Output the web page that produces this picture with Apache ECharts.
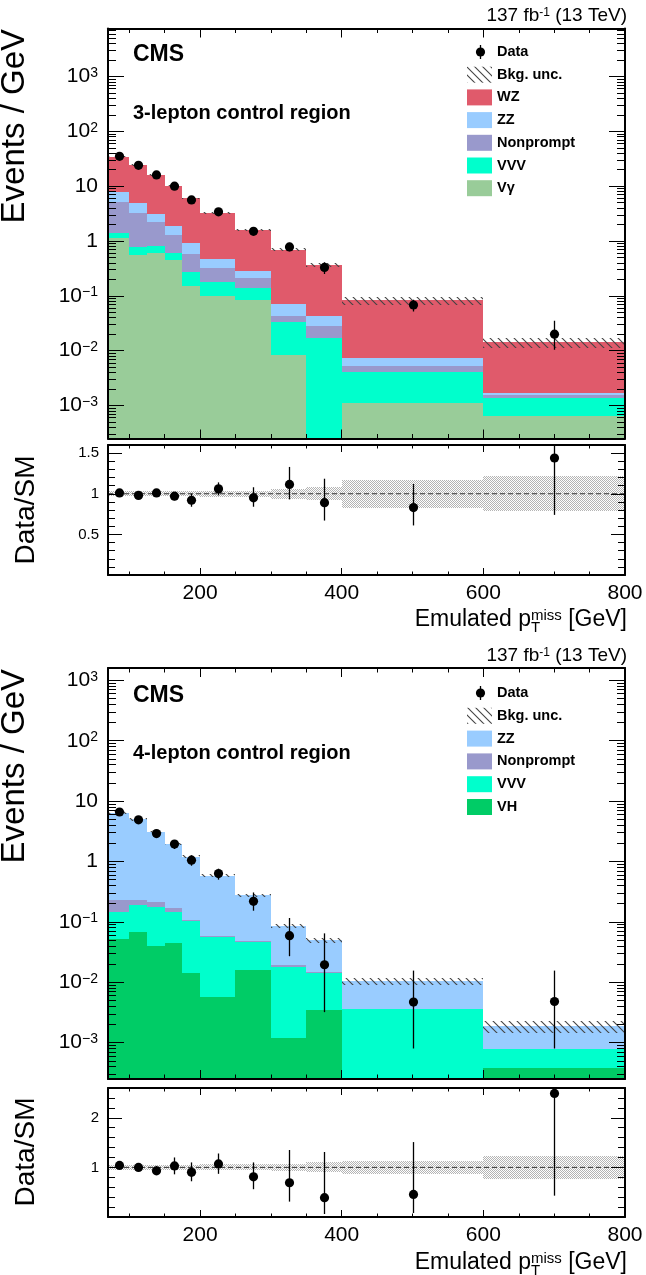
<!DOCTYPE html>
<html>
<head>
<meta charset="utf-8">
<script src="https://cdn.jsdelivr.net/npm/echarts@6.0.0/dist/echarts.min.js"></script>
<style>
html,body{margin:0;padding:0;background:#ffffff;}
#chart{width:646px;height:1275px;}
</style>
</head>
<body>
<div id="chart"></div>
<script>
// ================= DATA =================
const binLow    = [70, 100, 125, 150, 175, 200, 250, 300, 350, 400, 600];
const binHigh   = [100, 125, 150, 175, 200, 250, 300, 350, 400, 600, 800];
const binCenter = [85, 112.5, 137.5, 162.5, 187.5, 225, 275, 325, 375, 500, 700];

// 3-lepton control region, Events / GeV (stack order bottom -> top)
const lep3Vgamma    = [1.15, 0.55, 0.60, 0.455, 0.154, 0.101, 0.0855, 0.0084, 0, 0.0011, 0.00065];
const lep3VVV       = [0.25, 0.23, 0.21, 0.145, 0.113, 0.074, 0.0525, 0.0255, 0.0168, 0.0030, 0.0007];
const lep3Nonprompt = [3.8, 2.48, 1.42, 0.67, 0.32, 0.145, 0.072, 0.0097, 0.0118, 0.0012, 0.00021];
const lep3ZZ        = [2.5, 1.58, 0.94, 0.59, 0.347, 0.156, 0.069, 0.0277, 0.0138, 0.0019, 0.00014];
const lep3WZ        = [26.8, 19.5, 12.8, 8.3, 5.07, 2.78, 1.29, 0.624, 0.327, 0.075, 0.0124];
const lep3BkgRelUnc = [0.03, 0.03, 0.03, 0.03, 0.03, 0.04, 0.04, 0.06, 0.08, 0.17, 0.215];
const lep3Data      = [35, 24, 16, 10, 5.6, 3.4, 1.5, 0.78, 0.33, 0.068, 0.020];
const lep3DataErrLo = [1.0, 0.9, 0.7, 0.55, 0.45, 0.27, 0.18, 0.13, 0.08, 0.016, 0.0096];
const lep3DataErrHi = [1.0, 0.9, 0.7, 0.55, 0.45, 0.27, 0.18, 0.15, 0.08, 0.017, 0.015];
const lep3Ratio      = [1.01, 0.98, 1.01, 0.97, 0.92, 1.06, 0.95, 1.115, 0.89, 0.83, 1.44];
const lep3RatioErrLo = [0.03, 0.035, 0.04, 0.05, 0.08, 0.08, 0.11, 0.185, 0.22, 0.22, 0.70];
const lep3RatioErrHi = [0.03, 0.035, 0.04, 0.05, 0.08, 0.08, 0.13, 0.215, 0.295, 0.29, 1.10];

// 4-lepton control region, Events / GeV (stack order bottom -> top)
const lep4VH        = [0.053, 0.069, 0.040, 0.044, 0.0141, 0.0057, 0.0162, 0.0012, 0.0035, 0, 0.00038];
const lep4VVV       = [0.095, 0.121, 0.134, 0.104, 0.088, 0.050, 0.031, 0.0165, 0.0106, 0.0036, 0.0004];
const lep4Nonprompt = [0.082, 0.043, 0.036, 0.022, 0.005, 0.0035, 0.001, 0.0017, 0.0005, 0, 0];
const lep4ZZ        = [6.22, 4.77, 2.89, 1.77, 1.09, 0.52, 0.23, 0.067, 0.035, 0.0067, 0.0011];
const lep4BkgRelUnc = [0.05, 0.05, 0.05, 0.05, 0.05, 0.06, 0.06, 0.07, 0.10, 0.135, 0.23];
const lep4Data      = [6.6, 4.9, 2.9, 1.94, 1.05, 0.63, 0.219, 0.059, 0.0195, 0.0047, 0.0048];
const lep4DataErrLo = [0.26, 0.25, 0.23, 0.33, 0.2, 0.13, 0.066, 0.032, 0.0163, 0.0039, 0.004];
const lep4DataErrHi = [0.26, 0.25, 0.25, 0.33, 0.2, 0.13, 0.088, 0.057, 0.045, 0.0109, 0.0108];
const lep4Ratio      = [1.04, 1.0, 0.93, 1.03, 0.9, 1.07, 0.81, 0.69, 0.39, 0.455, 2.49];
const lep4RatioErrLo = [0.04, 0.05, 0.08, 0.17, 0.18, 0.2, 0.25, 0.38, 0.33, 0.375, 2.06];
const lep4RatioErrHi = [0.04, 0.05, 0.1, 0.17, 0.2, 0.21, 0.29, 0.66, 0.92, 1.055, 1.0];

// tick labels
const xTickLabels      = [200, 400, 600, 800];
const xMinorTicks      = [100, 150, 250, 300, 350, 450, 500, 550, 650, 700, 750];
const logTickLabels    = [1e-3, 1e-2, 1e-1, 1, 10, 100, 1000];
const ratio3TickLabels = [0.5, 1, 1.5];
const ratio4TickLabels = [1, 2];

// legend labels
const lep3Legend = ['Data', 'Bkg. unc.', 'WZ', 'ZZ', 'Nonprompt', 'VVV', 'V\u03B3'];
const lep4Legend = ['Data', 'Bkg. unc.', 'ZZ', 'Nonprompt', 'VVV', 'VH'];

// ================= STYLE / LAYOUT =================
const FONT = '"Liberation Sans", Arial, Helvetica, sans-serif';
const C = {WZ:'#e05a6b', ZZ:'#99ccff', NP:'#9999cc', VVV:'#00ffcc', VG:'#99cc99', VH:'#00cc66'};
const X_MIN = 70, X_MAX = 800;
const Y_MIN = 2.5e-4, Y3_MAX = 7.5e3, Y4_MAX = 1.6e3;
const GRIDS = [
  {left:108, top:28.5, width:517, height:410},
  {left:108, top:445, width:517, height:130},
  {left:108, top:668, width:517, height:411},
  {left:108, top:1088, width:517, height:129}
];

// patterns
function hatchPattern() {
  const c = document.createElement('canvas'); c.width = 8; c.height = 8;
  const g = c.getContext('2d');
  g.strokeStyle = '#444'; g.lineWidth = 1.1;
  g.beginPath();
  g.moveTo(-2, -2); g.lineTo(10, 10);
  g.moveTo(-2, 6); g.lineTo(2, 10);
  g.moveTo(6, -2); g.lineTo(10, 2);
  g.stroke();
  return {image: c, repeat: 'repeat'};
}
function stipplePattern() {
  const c = document.createElement('canvas'); c.width = 2; c.height = 2;
  const g = c.getContext('2d');
  g.fillStyle = '#ffffff'; g.fillRect(0, 0, 2, 2);
  g.fillStyle = '#b4b4b4'; g.fillRect(0, 0, 1, 1); g.fillRect(1, 1, 1, 1);
  return {image: c, repeat: 'repeat'};
}
const HATCH = hatchPattern();
const STIPPLE = stipplePattern();

// ---------------- axes ----------------
function logMinor(ymin, ymax) {
  const out = [];
  for (let d = -5; d <= 4; d++) for (let k = 2; k <= 9; k++) {
    const v = k * Math.pow(10, d);
    if (v > ymin && v < ymax) out.push(v);
  }
  return out;
}
function linMinor(step, max, majors) {
  const out = [];
  for (let i = 1; i * step < max - 1e-9; i++) {
    const v = Math.round(i * step * 100) / 100;
    if (majors.indexOf(v) < 0) out.push(v);
  }
  return out;
}
function logLabel(v) {
  const e = Math.round(Math.log10(v));
  if (e === 0) return '{b|1}';
  if (e === 1) return '{b|10}';
  return '{b|10}{s|' + (e < 0 ? '\u2212' + (-e) : String(e)) + '}';
}

const xAxes = [], yAxes = [];
function tickStyle(len, vals) {
  return {show: true, inside: true, length: len, customValues: vals, lineStyle: {color: '#000', width: 1}};
}
GRIDS.forEach((gr, g) => {
  const ratio = (g % 2 === 1);
  const xMaj = ratio ? 7 : 9, xMin = ratio ? 3.5 : 4.5;
  const xb = {gridIndex: g, type: 'value', min: X_MIN, max: X_MAX, z: 10, splitLine: {show: false}};
  const frameLine = {show: true, onZero: false, lineStyle: {color: '#000', width: 2}};
  xAxes.push(Object.assign({}, xb, {
    position: 'bottom', axisLine: frameLine, axisTick: tickStyle(xMaj, xTickLabels),
    axisLabel: ratio ? {show: true, customValues: xTickLabels, fontSize: 21, fontFamily: FONT, color: '#000', margin: 8} : {show: false}
  }));
  xAxes.push(Object.assign({}, xb, {position: 'bottom', axisLine: {show: false, onZero: false}, axisTick: tickStyle(xMin, xMinorTicks), axisLabel: {show: false}}));
  xAxes.push(Object.assign({}, xb, {position: 'top', axisLine: frameLine, axisTick: tickStyle(xMaj, xTickLabels), axisLabel: {show: false}}));
  xAxes.push(Object.assign({}, xb, {position: 'top', axisLine: {show: false, onZero: false}, axisTick: tickStyle(xMin, xMinorTicks), axisLabel: {show: false}}));

  let yb, majVals, minVals, majLen, minLen, label;
  if (!ratio) {
    const ymax = g === 0 ? Y3_MAX : Y4_MAX;
    yb = {gridIndex: g, type: 'log', logBase: 10, min: Y_MIN, max: ymax, z: 10, splitLine: {show: false}};
    majVals = logTickLabels; minVals = logMinor(Y_MIN, ymax); majLen = 16; minLen = 8;
    label = {show: true, customValues: logTickLabels, formatter: logLabel, margin: 10,
      rich: {
        b: {fontSize: 21, fontFamily: FONT, color: '#000', lineHeight: 21, padding: [4, 0, 4, 0]},
        s: {fontSize: 14, fontFamily: FONT, color: '#000', lineHeight: 14, verticalAlign: 'top'}
      }};
  } else {
    const ymax = g === 1 ? 1.6 : 2.6;
    const labs = g === 1 ? ratio3TickLabels : ratio4TickLabels;
    yb = {gridIndex: g, type: 'value', min: 0, max: ymax, z: 10, splitLine: {show: false}};
    majVals = labs; minVals = linMinor(g === 1 ? 0.1 : 0.2, ymax, labs); majLen = 14; minLen = 7;
    label = {show: true, customValues: labs, fontSize: 15, fontFamily: FONT, color: '#000', margin: 9,
      formatter: v => String(v)};
  }
  yAxes.push(Object.assign({}, yb, {position: 'left', axisLine: frameLine, axisTick: tickStyle(majLen, majVals), axisLabel: label}));
  yAxes.push(Object.assign({}, yb, {position: 'left', axisLine: {show: false, onZero: false}, axisTick: tickStyle(minLen, minVals), axisLabel: {show: false}}));
  yAxes.push(Object.assign({}, yb, {position: 'right', axisLine: frameLine, axisTick: tickStyle(majLen, majVals), axisLabel: {show: false}}));
  yAxes.push(Object.assign({}, yb, {position: 'right', axisLine: {show: false, onZero: false}, axisTick: tickStyle(minLen, minVals), axisLabel: {show: false}}));
});

// ---------------- series ----------------
function rectRenderer(fill) {
  return function (params, api) {
    const a = api.coord([api.value(0), api.value(3)]);
    const b = api.coord([api.value(1), api.value(2)]);
    const x0 = Math.round(a[0]), x1 = Math.round(b[0]);
    const y0 = Math.round(a[1]), y1 = Math.round(b[1]);
    return {type: 'rect', shape: {x: x0, y: y0, width: x1 - x0, height: y1 - y0}, style: {fill: fill}};
  };
}
function pointRenderer(params, api) {
  const x = api.value(0), y = api.value(1), lo = api.value(2), hi = api.value(3);
  const c = api.coord([x, y]);
  const pl = api.coord([x, y - lo]);
  const ph = api.coord([x, y + hi]);
  const cx = Math.round(c[0]) + 0.5;
  return {type: 'group', children: [
    {type: 'line', shape: {x1: cx, y1: ph[1], x2: cx, y2: pl[1]}, style: {stroke: '#000', lineWidth: 1.3}},
    {type: 'circle', shape: {cx: cx, cy: c[1], r: 4.6}, style: {fill: '#000'}}
  ]};
}
const series = [];
function addMain(g, comps, colors, unc, data, eLo, eHi) {
  const cum = binLow.map(() => 0);
  comps.forEach((vals, i) => {
    const rows = [];
    vals.forEach((v, b) => {
      const base = cum[b], top = base + v;
      if (v > 0) rows.push([binLow[b], binHigh[b], base > 0 ? base : Y_MIN, top]);
      cum[b] = top;
    });
    series.push({type: 'custom', xAxisIndex: 4 * g, yAxisIndex: 4 * g, clip: true, silent: true, z: 2,
      data: rows, renderItem: rectRenderer(colors[i])});
  });
  const bandRows = cum.map((t, b) => [binLow[b], binHigh[b], t * (1 - unc[b]), t * (1 + unc[b])]);
  series.push({type: 'custom', xAxisIndex: 4 * g, yAxisIndex: 4 * g, clip: true, silent: true, z: 3,
    data: bandRows, renderItem: rectRenderer(HATCH)});
  series.push({type: 'custom', xAxisIndex: 4 * g, yAxisIndex: 4 * g, clip: true, silent: true, z: 4,
    data: data.map((v, b) => [binCenter[b], v, eLo[b], eHi[b]]), renderItem: pointRenderer});
}
function addRatio(g, unc, ratio, eLo, eHi) {
  series.push({type: 'custom', xAxisIndex: 4 * g, yAxisIndex: 4 * g, clip: true, silent: true, z: 2,
    data: unc.map((u, b) => [binLow[b], binHigh[b], 1 - u, 1 + u]), renderItem: rectRenderer(STIPPLE)});
  series.push({type: 'line', xAxisIndex: 4 * g, yAxisIndex: 4 * g, silent: true, z: 3, showSymbol: false,
    data: [[X_MIN, 1], [X_MAX, 1]], lineStyle: {color: '#333', width: 1, type: [5, 3]}});
  series.push({type: 'custom', xAxisIndex: 4 * g, yAxisIndex: 4 * g, clip: true, silent: true, z: 4,
    data: ratio.map((v, b) => [binCenter[b], v, eLo[b], eHi[b]]), renderItem: pointRenderer});
}
addMain(0, [lep3Vgamma, lep3VVV, lep3Nonprompt, lep3ZZ, lep3WZ], [C.VG, C.VVV, C.NP, C.ZZ, C.WZ],
  lep3BkgRelUnc, lep3Data, lep3DataErrLo, lep3DataErrHi);
addRatio(1, lep3BkgRelUnc, lep3Ratio, lep3RatioErrLo, lep3RatioErrHi);
addMain(2, [lep4VH, lep4VVV, lep4Nonprompt, lep4ZZ], [C.VH, C.VVV, C.NP, C.ZZ],
  lep4BkgRelUnc, lep4Data, lep4DataErrLo, lep4DataErrHi);
addRatio(3, lep4BkgRelUnc, lep4Ratio, lep4RatioErrLo, lep4RatioErrHi);

// ---------------- texts & legend ----------------
const graphics = [];
const measureCtx = document.createElement('canvas').getContext('2d');
function textW(str, size) { measureCtx.font = size + 'px ' + FONT; return measureCtx.measureText(str).width; }

function lumi(y) {
  graphics.push({type: 'text', x: 627, y: y, z: 20, style: {
    text: '{n|137 fb}{s|-1}{n| (13 TeV)}', align: 'right', verticalAlign: 'middle',
    rich: {n: {fontSize: 19, fontFamily: FONT, fill: '#000', lineHeight: 19, padding: [4, 0, 4, 0]},
           s: {fontSize: 12, fontFamily: FONT, fill: '#000', lineHeight: 12, verticalAlign: 'top'}}}});
}
function header(yCMS, yReg, region) {
  graphics.push({type: 'text', x: 133, y: yCMS, z: 20, style: {text: 'CMS', fontSize: 23, fontWeight: 'bold', fontFamily: FONT, fill: '#000', verticalAlign: 'middle'}});
  graphics.push({type: 'text', x: 133, y: yReg, z: 20, style: {text: region, fontSize: 20, fontWeight: 'bold', fontFamily: FONT, fill: '#000', verticalAlign: 'middle'}});
}
function legend(labels, colors, y0, dy) {
  labels.forEach((lab, i) => {
    const y = y0 + i * dy;
    if (i === 0) {
      graphics.push({type: 'line', z: 20, shape: {x1: 480.5, y1: y - 7, x2: 480.5, y2: y + 7}, style: {stroke: '#000', lineWidth: 1.3}});
      graphics.push({type: 'circle', z: 20, shape: {cx: 480.5, cy: y, r: 4.6}, style: {fill: '#000'}});
    } else if (i === 1) {
      graphics.push({type: 'rect', z: 20, shape: {x: 467, y: y - 8, width: 25, height: 16}, style: {fill: HATCH}});
    } else {
      graphics.push({type: 'rect', z: 20, shape: {x: 467, y: y - 8, width: 25, height: 16}, style: {fill: colors[i - 2]}});
    }
    graphics.push({type: 'text', x: 497, y: y, z: 20, style: {text: lab, fontSize: 14.5, fontWeight: 'bold', fontFamily: FONT, fill: '#000', verticalAlign: 'middle'}});
  });
}
function yTitles(yTop, yRatioMid) {
  graphics.push({type: 'text', x: 15, y: yTop, rotation: Math.PI / 2, z: 20, style: {text: 'Events / GeV', fontSize: 33, fontFamily: FONT, fill: '#000', align: 'right', verticalAlign: 'middle'}});
  graphics.push({type: 'text', x: 26, y: yRatioMid, rotation: Math.PI / 2, z: 20, style: {text: 'Data/SM', fontSize: 28, fontFamily: FONT, fill: '#000', align: 'center', verticalAlign: 'middle'}});
}
function xTitle(y) {
  const fs = 23, ss = 15;
  graphics.push({type: 'text', x: 627, y: y, z: 20, style: {
    text: '{n|Emulated p}{s|miss}{n| [GeV]}', align: 'right', verticalAlign: 'middle',
    rich: {n: {fontSize: fs, fontFamily: FONT, fill: '#000', lineHeight: fs, padding: [6, 0, 6, 0]},
           s: {fontSize: ss, fontFamily: FONT, fill: '#000', lineHeight: ss, verticalAlign: 'top'}}}});
  const tx = 627 - textW(' [GeV]', fs) - textW('miss', ss);
  graphics.push({type: 'text', x: tx, y: y + 8, z: 20, style: {text: 'T', fontSize: ss, fontFamily: FONT, fill: '#000', align: 'left', verticalAlign: 'middle'}});
}

lumi(16); lumi(656);
header(55, 113, '3-lepton control region');
header(696, 753, '4-lepton control region');
legend(lep3Legend, [C.WZ, C.ZZ, C.NP, C.VVV, C.VG], 52, 22.7);
legend(lep4Legend, [C.ZZ, C.NP, C.VVV, C.VH], 693, 22.8);
yTitles(29, 510);
yTitles(669, 1152);
xTitle(620);
xTitle(1263);

const chart = echarts.init(document.getElementById('chart'), null, {renderer: 'canvas', width: 646, height: 1275});
chart.setOption({
  animation: false,
  backgroundColor: '#ffffff',
  grid: GRIDS.map(g => Object.assign({containLabel: false}, g)),
  xAxis: xAxes,
  yAxis: yAxes,
  series: series,
  graphic: graphics
});
</script>
</body>
</html>
